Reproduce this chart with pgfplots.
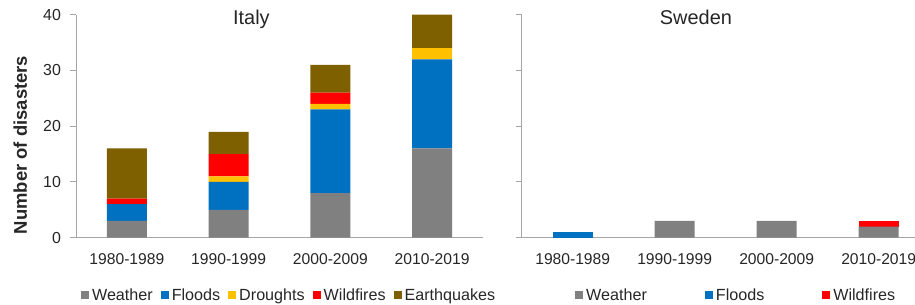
\documentclass[border=0pt]{standalone}
\usepackage{fontspec}
\setmainfont{Liberation Sans}
\usepackage{pgfplots}
\usepackage{pgfplotstable}
\pgfplotsset{compat=1.18}
\definecolor{cWeather}{HTML}{808080}
\definecolor{cFloods}{HTML}{0070C0}
\definecolor{cDroughts}{HTML}{FFC000}
\definecolor{cWild}{HTML}{FF0000}
\definecolor{cEarth}{HTML}{7F6000}
\definecolor{axgray}{HTML}{A6A6A6}
\definecolor{txt}{HTML}{262626}

\pgfplotstableread{
x W F D Wi E
0 3 3 0 1 9
1 5 5 1 4 4
2 8 15 1 2 5
3 16 16 2 0 6
}\italy
\pgfplotstableread{
x W F Wi
0 0 1 0
1 3 0 0
2 3 0 0
3 2 0 1
}\sweden

\pgfplotsset{
 common/.style={
  scale only axis,
  ybar stacked, bar width=40bp,
  ymin=0,ymax=40, ytick={0,10,20,30,40},
  xmin=-0.5, enlarge x limits=false,
  xtick={0,1,2,3}, xticklabels={1980-1989,1990-1999,2000-2009,2010-2019},
  axis x line*=bottom, axis y line*=left,
  axis line style={axgray, line width=1bp, -},
  major tick length=6bp,
  tick align=outside,
  xtick style={draw=none},
  ytick style={axgray, line width=1bp},
  xticklabel style={font=\fontsize{15.7}{16}\selectfont, text=txt, yshift=-6.5bp},
  yticklabel style={font=\fontsize{16}{17}\selectfont, text=txt, xshift=-5.5bp},
  /pgf/number format/assume math mode=true,
  every axis title/.style={font=\fontsize{20}{21}\selectfont, text=txt, anchor=base},
  legend style={draw=none, fill=none, inner sep=0pt, anchor=west,
     font=\fontsize{16.2}{17}\selectfont, text=txt,
     nodes={inner sep=3bp}},
  legend cell align=left,
  legend image code/.code={\fill[##1] (0bp,-4bp) rectangle (8bp,4bp);},
 }
}

\begin{document}
\begin{tikzpicture}
\path[use as bounding box] (0,0) rectangle (915bp,305bp);

\begin{axis}[common,
  at={(76bp,67.3bp)}, anchor=south west,
  width=407bp, height=223bp, xmax=3.5,
  title={Italy}, title style={at={(axis description cs:0.431,0.954)}},
  ylabel={\textbf{Number of disasters}},
  ylabel style={at={(axis description cs:-0.137,0.416)}, anchor=center,
     font=\fontsize{18.5}{19}\selectfont, text=txt},
  legend columns=5,
  legend style={at={(axis description cs:0.012,-0.257)},
     /tikz/every even column/.append style={column sep=5bp}},
]
\addplot[fill=cWeather, draw=none] table[x=x,y=W]{\italy};
\addplot[fill=cFloods, draw=none] table[x=x,y=F]{\italy};
\addplot[fill=cDroughts, draw=none] table[x=x,y=D]{\italy};
\addplot[fill=cWild, draw=none] table[x=x,y=Wi]{\italy};
\addplot[fill=cEarth, draw=none] table[x=x,y=E]{\italy};
\legend{Weather,Floods,Droughts,Wildfires,Earthquakes}
\end{axis}

\begin{axis}[common,
  at={(521.7bp,67.3bp)}, anchor=south west,
  width=393.3bp, height=223bp, xmax=3.356,
  yticklabels={},
  title={Sweden}, title style={at={(axis description cs:0.443,0.954)}},
  legend columns=3,
  legend style={at={(axis description cs:0.1355,-0.257)},
     /tikz/every even column/.append style={column sep=55bp}},
]
\addplot[fill=cWeather, draw=none] table[x=x,y=W]{\sweden};
\addplot[fill=cFloods, draw=none] table[x=x,y=F]{\sweden};
\addplot[fill=cWild, draw=none] table[x=x,y=Wi]{\sweden};
\legend{Weather,Floods,Wildfires}
\end{axis}
\end{tikzpicture}
\end{document}
